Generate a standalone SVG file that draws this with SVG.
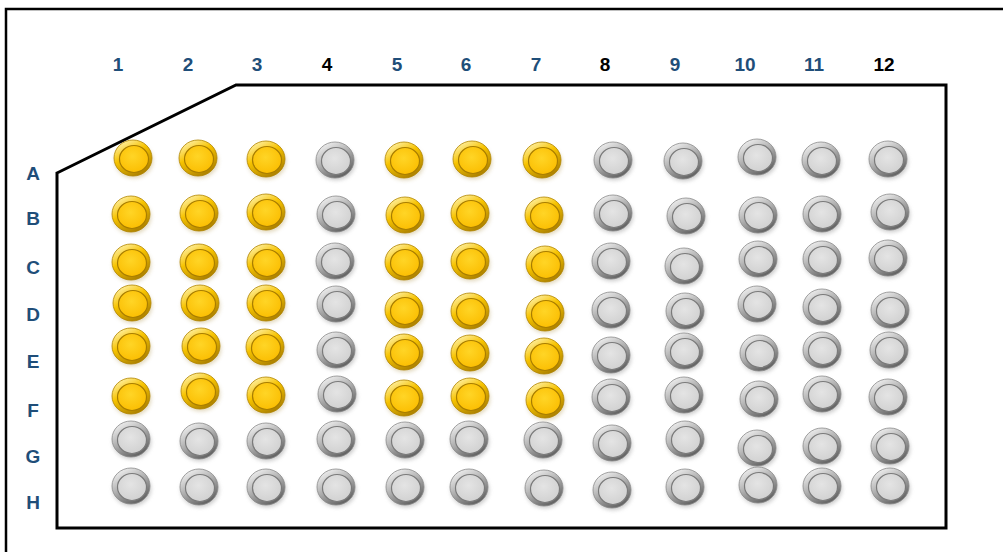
<svg xmlns="http://www.w3.org/2000/svg" xmlns:xlink="http://www.w3.org/1999/xlink" width="1003" height="552" viewBox="0 0 1003 552">
<style>
.col{font-family:"Liberation Sans",Arial,sans-serif;font-weight:bold;font-size:19px;text-anchor:middle;fill:#1F4E79}
.blk{fill:#000}
.row{font-family:"Liberation Sans",Arial,sans-serif;font-weight:bold;font-size:19px;text-anchor:middle;fill:#1F4E79}
.frame{fill:none;stroke:#000;stroke-width:2.5}
.plate{fill:#fff;stroke:#000;stroke-width:3;stroke-linejoin:miter}
</style>
<defs>
<filter id="sh" x="-50%" y="-50%" width="200%" height="200%"><feGaussianBlur stdDeviation="2"/></filter>
<linearGradient id="gRim" x1="0.2" y1="0" x2="0.8" y2="1">
<stop offset="0" stop-color="#f4f4f4"/><stop offset="0.45" stop-color="#b0b0b0"/><stop offset="1" stop-color="#555"/>
</linearGradient>
<radialGradient id="gIn" cx="0.45" cy="0.4" r="0.65">
<stop offset="0" stop-color="#e4e4e4"/><stop offset="1" stop-color="#d0d0d0"/>
</radialGradient>
<linearGradient id="yRim" x1="0.2" y1="0" x2="0.8" y2="1">
<stop offset="0" stop-color="#fff3b0"/><stop offset="0.4" stop-color="#f7c300"/><stop offset="1" stop-color="#a27800"/>
</linearGradient>
<radialGradient id="yIn" cx="0.45" cy="0.4" r="0.65">
<stop offset="0" stop-color="#ffd526"/><stop offset="1" stop-color="#fbbd00"/>
</radialGradient>
<g id="g">
<ellipse cx="1" cy="3" rx="19" ry="17" fill="#9a9a9a" opacity="0.55" filter="url(#sh)"/>
<ellipse cx="0" cy="0" rx="19" ry="18" fill="url(#gRim)" stroke="#8a8a8a" stroke-width="0.8"/>
<ellipse cx="1" cy="1" rx="14.5" ry="13.5" fill="url(#gIn)" stroke="#7a7a7a" stroke-width="1.2"/>
</g>
<g id="y">
<ellipse cx="1" cy="3" rx="19" ry="17" fill="#b8a060" opacity="0.45" filter="url(#sh)"/>
<ellipse cx="0" cy="0" rx="19" ry="18" fill="url(#yRim)" stroke="#b08400" stroke-width="0.8"/>
<ellipse cx="1" cy="1" rx="14.5" ry="13.5" fill="url(#yIn)" stroke="#a87d00" stroke-width="1.2"/>
</g>
</defs>
<rect width="1003" height="552" fill="#fff"/>
<g id="outer-frame">
<path class="frame" d="M6,552 V9 H1003"/>
</g>
<g id="plate">
<path class="plate" d="M57,173 L236,85 H946 V528 H57 Z"/>
</g>
<g id="column-labels">
<text class="col" x="118" y="71">1</text>
<text class="col" x="188" y="71">2</text>
<text class="col" x="257" y="71">3</text>
<text class="col blk" x="327" y="71">4</text>
<text class="col" x="397" y="71">5</text>
<text class="col" x="466" y="71">6</text>
<text class="col" x="536" y="71">7</text>
<text class="col blk" x="605" y="71">8</text>
<text class="col" x="675" y="71">9</text>
<text class="col" x="745" y="71">10</text>
<text class="col" x="814" y="71">11</text>
<text class="col blk" x="884" y="71">12</text>
</g>
<g id="row-labels">
<text class="row" x="33" y="180">A</text>
<text class="row" x="33" y="225">B</text>
<text class="row" x="33" y="274">C</text>
<text class="row" x="33" y="321">D</text>
<text class="row" x="33" y="368">E</text>
<text class="row" x="33" y="417">F</text>
<text class="row" x="33" y="463">G</text>
<text class="row" x="33" y="509">H</text>
</g>
<g id="wells">
<g id="A1"><use href="#y" x="133" y="158"/></g>
<g id="A2"><use href="#y" x="198" y="158"/></g>
<g id="A3"><use href="#y" x="266" y="159"/></g>
<g id="A4"><use href="#g" x="335" y="160"/></g>
<g id="A5"><use href="#y" x="404" y="160"/></g>
<g id="A6"><use href="#y" x="472" y="159"/></g>
<g id="A7"><use href="#y" x="542" y="160"/></g>
<g id="A8"><use href="#g" x="613" y="160"/></g>
<g id="A9"><use href="#g" x="683" y="161"/></g>
<g id="A10"><use href="#g" x="757" y="157"/></g>
<g id="A11"><use href="#g" x="821" y="160"/></g>
<g id="A12"><use href="#g" x="888" y="159"/></g>
<g id="B1"><use href="#y" x="131" y="214"/></g>
<g id="B2"><use href="#y" x="199" y="213"/></g>
<g id="B3"><use href="#y" x="266" y="212"/></g>
<g id="B4"><use href="#g" x="336" y="214"/></g>
<g id="B5"><use href="#y" x="405" y="215"/></g>
<g id="B6"><use href="#y" x="470" y="213"/></g>
<g id="B7"><use href="#y" x="544" y="215"/></g>
<g id="B8"><use href="#g" x="613" y="213"/></g>
<g id="B9"><use href="#g" x="686" y="216"/></g>
<g id="B10"><use href="#g" x="758" y="215"/></g>
<g id="B11"><use href="#g" x="822" y="214"/></g>
<g id="B12"><use href="#g" x="890" y="212"/></g>
<g id="C1"><use href="#y" x="131" y="262"/></g>
<g id="C2"><use href="#y" x="199" y="262"/></g>
<g id="C3"><use href="#y" x="266" y="262"/></g>
<g id="C4"><use href="#g" x="335" y="261"/></g>
<g id="C5"><use href="#y" x="404" y="262"/></g>
<g id="C6"><use href="#y" x="470" y="261"/></g>
<g id="C7"><use href="#y" x="545" y="264"/></g>
<g id="C8"><use href="#g" x="611" y="261"/></g>
<g id="C9"><use href="#g" x="684" y="266"/></g>
<g id="C10"><use href="#g" x="758" y="259"/></g>
<g id="C11"><use href="#g" x="822" y="259"/></g>
<g id="C12"><use href="#g" x="888" y="258"/></g>
<g id="D1"><use href="#y" x="132" y="303"/></g>
<g id="D2"><use href="#y" x="200" y="303"/></g>
<g id="D3"><use href="#y" x="266" y="303"/></g>
<g id="D4"><use href="#g" x="336" y="304"/></g>
<g id="D5"><use href="#y" x="404" y="310"/></g>
<g id="D6"><use href="#y" x="470" y="311"/></g>
<g id="D7"><use href="#y" x="545" y="313"/></g>
<g id="D8"><use href="#g" x="611" y="310"/></g>
<g id="D9"><use href="#g" x="685" y="311"/></g>
<g id="D10"><use href="#g" x="757" y="304"/></g>
<g id="D11"><use href="#g" x="822" y="307"/></g>
<g id="D12"><use href="#g" x="890" y="310"/></g>
<g id="E1"><use href="#y" x="131" y="346"/></g>
<g id="E2"><use href="#y" x="201" y="346"/></g>
<g id="E3"><use href="#y" x="265" y="347"/></g>
<g id="E4"><use href="#g" x="336" y="350"/></g>
<g id="E5"><use href="#y" x="404" y="352"/></g>
<g id="E6"><use href="#y" x="470" y="353"/></g>
<g id="E7"><use href="#y" x="544" y="356"/></g>
<g id="E8"><use href="#g" x="611" y="355"/></g>
<g id="E9"><use href="#g" x="684" y="351"/></g>
<g id="E10"><use href="#g" x="759" y="353"/></g>
<g id="E11"><use href="#g" x="822" y="350"/></g>
<g id="E12"><use href="#g" x="889" y="350"/></g>
<g id="F1"><use href="#y" x="131" y="396"/></g>
<g id="F2"><use href="#y" x="200" y="391"/></g>
<g id="F3"><use href="#y" x="266" y="395"/></g>
<g id="F4"><use href="#g" x="337" y="394"/></g>
<g id="F5"><use href="#y" x="404" y="398"/></g>
<g id="F6"><use href="#y" x="470" y="396"/></g>
<g id="F7"><use href="#y" x="545" y="400"/></g>
<g id="F8"><use href="#g" x="611" y="397"/></g>
<g id="F9"><use href="#g" x="684" y="395"/></g>
<g id="F10"><use href="#g" x="759" y="399"/></g>
<g id="F11"><use href="#g" x="822" y="394"/></g>
<g id="F12"><use href="#g" x="888" y="397"/></g>
<g id="G1"><use href="#g" x="131" y="439"/></g>
<g id="G2"><use href="#g" x="199" y="441"/></g>
<g id="G3"><use href="#g" x="266" y="441"/></g>
<g id="G4"><use href="#g" x="336" y="439"/></g>
<g id="G5"><use href="#g" x="405" y="440"/></g>
<g id="G6"><use href="#g" x="469" y="439"/></g>
<g id="G7"><use href="#g" x="543" y="440"/></g>
<g id="G8"><use href="#g" x="612" y="443"/></g>
<g id="G9"><use href="#g" x="685" y="439"/></g>
<g id="G10"><use href="#g" x="757" y="448"/></g>
<g id="G11"><use href="#g" x="822" y="446"/></g>
<g id="G12"><use href="#g" x="890" y="446"/></g>
<g id="H1"><use href="#g" x="131" y="486"/></g>
<g id="H2"><use href="#g" x="199" y="487"/></g>
<g id="H3"><use href="#g" x="266" y="487"/></g>
<g id="H4"><use href="#g" x="336" y="487"/></g>
<g id="H5"><use href="#g" x="405" y="487"/></g>
<g id="H6"><use href="#g" x="469" y="487"/></g>
<g id="H7"><use href="#g" x="544" y="488"/></g>
<g id="H8"><use href="#g" x="612" y="490"/></g>
<g id="H9"><use href="#g" x="685" y="487"/></g>
<g id="H10"><use href="#g" x="758" y="485"/></g>
<g id="H11"><use href="#g" x="822" y="486"/></g>
<g id="H12"><use href="#g" x="890" y="486"/></g>
</g>
</svg>
